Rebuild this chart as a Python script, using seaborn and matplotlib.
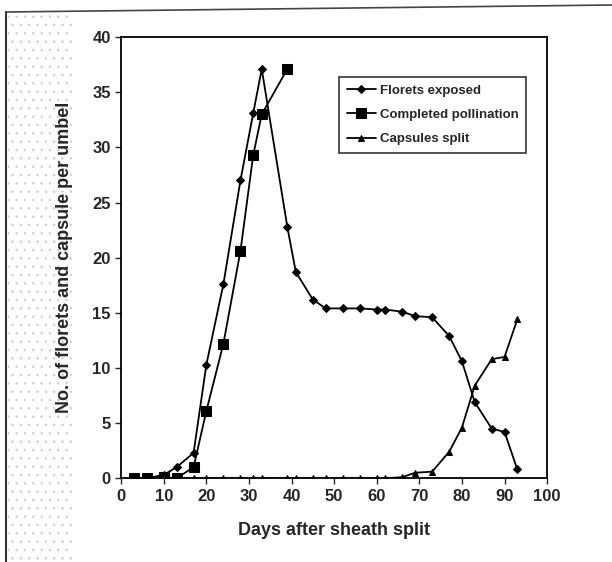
import numpy as np
import pandas as pd
import matplotlib
matplotlib.use('Agg')
import matplotlib.pyplot as plt
from matplotlib.patches import Rectangle
from matplotlib.lines import Line2D
import seaborn as sns

# ── Data ─────────────────────────────────────────────────────────────────────
days = [3, 6, 10, 13, 17, 20, 24, 28, 31, 33, 39, 41, 45, 48, 52, 56, 60, 62,
        66, 69, 73, 77, 80, 83, 87, 90, 93]
florets = [0, 0, 0.3, 1.0, 2.3, 10.3, 17.6, 27.0, 33.1, 37.1, 22.8, 18.7, 16.2,
           15.4, 15.4, 15.4, 15.3, 15.3, 15.1, 14.7, 14.6, 12.9, 10.6, 6.9, 4.5,
           4.2, 0.8]
poll_days = [3, 6, 10, 13, 17, 20, 24, 28, 31, 33, 39]
pollination = [0, 0, 0.1, 0, 1.0, 6.1, 12.2, 20.6, 29.3, 33.0, 37.1]
capsules = [0, 0, 0, 0, 0, 0, 0, 0, 0, 0, 0, 0, 0, 0, 0, 0, 0, 0,
            0.1, 0.5, 0.6, 2.4, 4.6, 8.4, 10.8, 11.0, 14.4]

series = ["Florets exposed", "Completed pollination", "Capsules split"]

df = pd.concat([
    pd.DataFrame({"day": days, "n": florets, "series": series[0]}),
    pd.DataFrame({"day": poll_days, "n": pollination, "series": series[1]}),
    pd.DataFrame({"day": days, "n": capsules, "series": series[2]}),
])

sns.set_style("white")
plt.rcParams['font.family'] = ['Liberation Sans', 'DejaVu Sans']
plt.rcParams['hatch.linewidth'] = 0.6

fig = plt.figure(figsize=(6.12, 5.62), dpi=100)
ax = fig.add_axes([0.198, 0.149, 0.696, 0.785])

# scan-like page border and stippled margin
fig.add_artist(Rectangle((8/612, 0), 64/612, 1 - 13/562, transform=fig.transFigure,
                         facecolor='none', edgecolor='#d0d0d0', hatch='..',
                         linewidth=0, zorder=-5))
fig.add_artist(Line2D([6/612, 6/612], [0, 1 - 12/562], transform=fig.transFigure,
                      color='#333333', lw=1.5))
fig.add_artist(Line2D([6/612, 1], [1 - 12/562, 1 - 5/562], transform=fig.transFigure,
                      color='#444444', lw=1.2))

markers = {series[0]: 'D', series[1]: 's', series[2]: '^'}
sizes = {series[0]: 4.5, series[1]: 6.5, series[2]: 5}
for name in series:
    sub = df[df["series"] == name]
    sns.lineplot(data=sub, x="day", y="n", ax=ax, color='black', lw=1.3,
                 marker=markers[name], markersize=sizes[name],
                 markeredgecolor='black', label=name, estimator=None, sort=False)

ax.set_xlim(0, 100)
ax.set_ylim(0, 40)
ax.set_xticks(range(0, 101, 10))
ax.set_yticks(range(0, 41, 5))
ax.tick_params(direction='out', length=4, width=1, labelsize=12, bottom=True, left=True)
for lab in ax.get_xticklabels() + ax.get_yticklabels():
    lab.set_fontweight('bold')
for s in ax.spines.values():
    s.set_color('black')
    s.set_linewidth(1.3)

ax.set_xlabel("Days after sheath split", fontsize=13, fontweight='bold', labelpad=13)
ax.set_ylabel("No. of florets and capsule per umbel", fontsize=13, fontweight='bold',
              labelpad=14)

leg = ax.legend(loc='upper left', bbox_to_anchor=(0.495, 0.925),
                prop={'weight': 'bold', 'size': 9.5}, frameon=True, fancybox=False,
                handlelength=2.2, handletextpad=0.3, borderpad=0.6, labelspacing=0.9)
leg.get_frame().set_edgecolor('black')
leg.get_frame().set_linewidth(1.2)

plt.savefig("out.png", dpi=100)
plt.close()
